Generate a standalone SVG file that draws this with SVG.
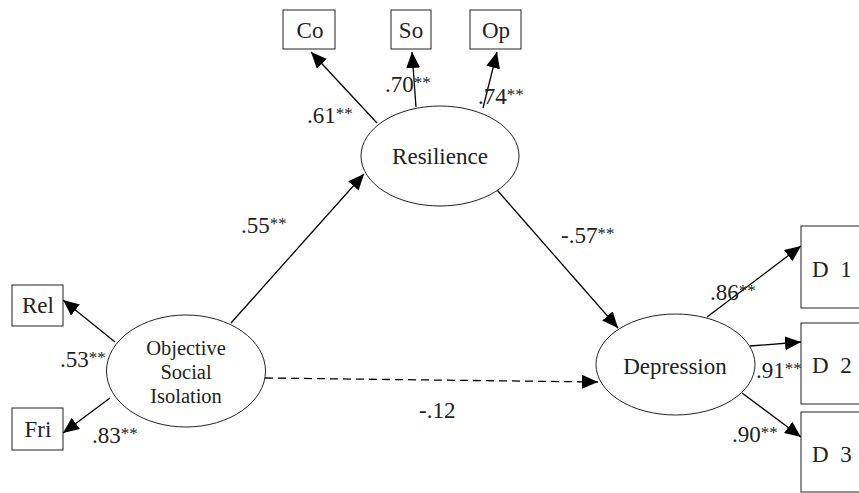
<svg xmlns="http://www.w3.org/2000/svg" width="859" height="493" viewBox="0 0 859 493">
<style>
text{font-family:"Liberation Serif","DejaVu Serif","Noto Serif",serif;font-size:23px;fill:#222}
.n{text-anchor:middle}
.osi{font-size:20.5px}
.ast{font-size:17px}
.box{fill:#fff;stroke:#222;stroke-width:1}
.ell{fill:#fff;stroke:#222;stroke-width:1}
.c{stroke:#000;stroke-width:1.3;fill:none;marker-end:url(#ah)}
.d{stroke-dasharray:8 5}
</style>
<defs>
<marker id="ah" markerUnits="userSpaceOnUse" markerWidth="16" markerHeight="14" refX="16" refY="7" orient="auto">
<path d="M0,0 L16,7 L0,14 z" fill="#000"/>
</marker>
</defs>
<g id="connectors">
<line class="c" x1="377" y1="123" x2="311" y2="52"/>
<line class="c" x1="416" y1="107" x2="412" y2="52"/>
<line class="c" x1="483" y1="108" x2="497" y2="52"/>
<line class="c" x1="115" y1="342" x2="63" y2="300"/>
<line class="c" x1="110" y1="398" x2="63" y2="433"/>
<line class="c" x1="231" y1="323" x2="364" y2="174"/>
<line class="c" x1="497" y1="190" x2="618" y2="328"/>
<line class="c d" x1="265" y1="378" x2="598" y2="382"/>
<line class="c" x1="707" y1="317" x2="801" y2="246"/>
<line class="c" x1="750" y1="346" x2="801" y2="342"/>
<line class="c" x1="742" y1="393" x2="801" y2="437"/>
</g>
<g id="Co"><rect class="box" x="283" y="10" width="52" height="39"/><text class="n" x="310" y="38">Co</text></g>
<g id="So"><rect class="box" x="391" y="10" width="40" height="39"/><text class="n" x="411" y="38">So</text></g>
<g id="Op"><rect class="box" x="470" y="10" width="51" height="39"/><text class="n" x="496" y="38">Op</text></g>
<g id="Rel"><rect class="box" x="12" y="285" width="51" height="41"/><text class="n" x="38" y="313">Rel</text></g>
<g id="Fri"><rect class="box" x="12" y="408" width="51" height="42"/><text class="n" x="38" y="437">Fri</text></g>
<g id="D1"><rect class="box" x="801" y="226" width="80" height="82"/><text x="812" y="277" word-spacing="6">D 1</text></g>
<g id="D2"><rect class="box" x="801" y="323" width="80" height="81"/><text x="812" y="373" word-spacing="6">D 2</text></g>
<g id="D3"><rect class="box" x="801" y="412" width="80" height="80"/><text x="812" y="462" word-spacing="6">D 3</text></g>
<g id="Resilience"><ellipse class="ell" cx="440" cy="156" rx="79" ry="50"/><text class="n" x="440" y="164">Resilience</text></g>
<g id="OSI"><ellipse class="ell" cx="186" cy="371" rx="79.5" ry="56"/>
<text class="n osi" x="186" y="355">Objective</text><text class="n osi" x="186" y="379">Social</text><text class="n osi" x="186" y="403">Isolation</text></g>
<g id="Depression"><ellipse class="ell" cx="675.5" cy="364.5" rx="79.5" ry="50.5"/><text class="n" x="675" y="374">Depression</text></g>
<g id="labels">
<text x="307" y="123">.61<tspan class="ast" dy="-4">**</tspan></text>
<text x="385" y="92">.70<tspan class="ast" dy="-4">**</tspan></text>
<text x="478" y="104">.74<tspan class="ast" dy="-4">**</tspan></text>
<text x="60" y="367">.53<tspan class="ast" dy="-4">**</tspan></text>
<text x="92" y="443">.83<tspan class="ast" dy="-4">**</tspan></text>
<text x="241" y="233">.55<tspan class="ast" dy="-4">**</tspan></text>
<text x="561" y="243">-.57<tspan class="ast" dy="-4">**</tspan></text>
<text x="419" y="418">-.12</text>
<text x="710" y="300">.86<tspan class="ast" dy="-4">**</tspan></text>
<text x="756" y="378">.91<tspan class="ast" dy="-4">**</tspan></text>
<text x="732" y="442">.90<tspan class="ast" dy="-4">**</tspan></text>
</g>
</svg>
